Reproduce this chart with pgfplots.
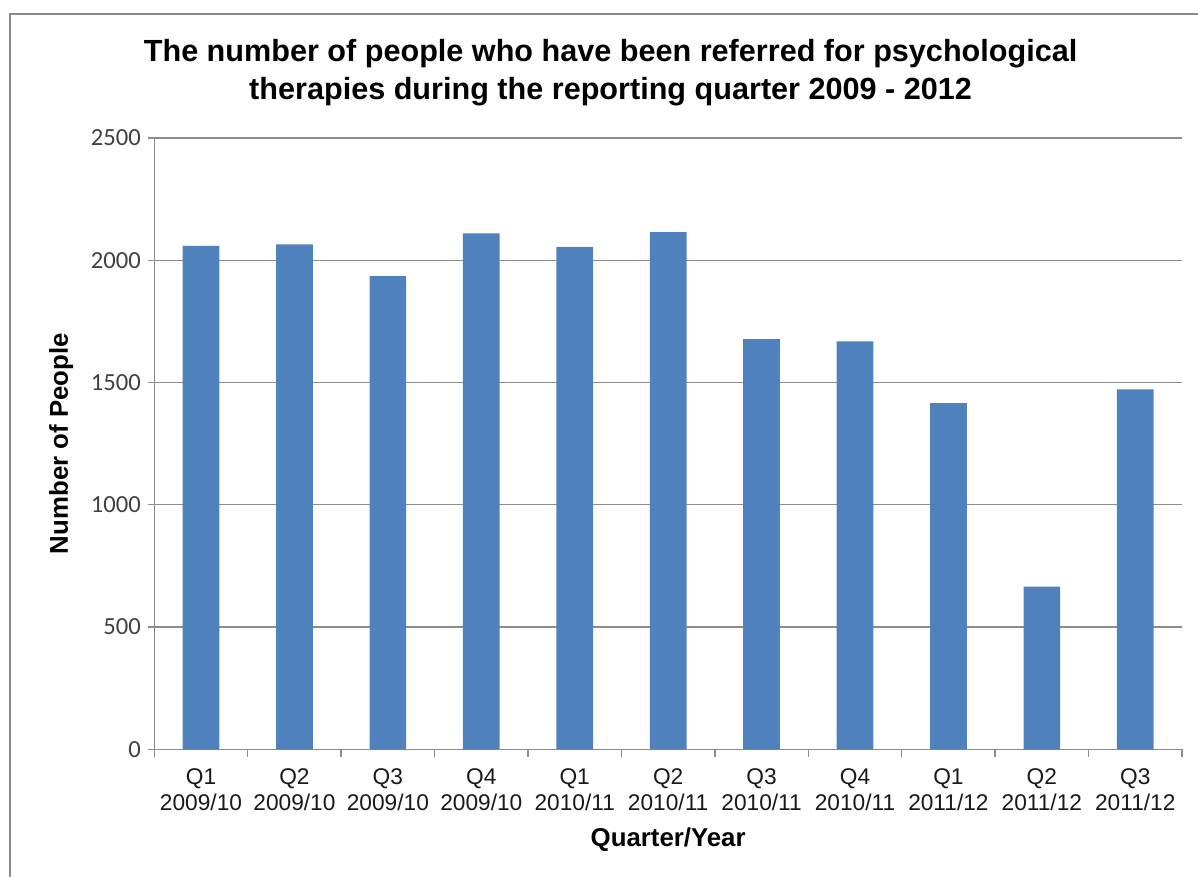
\documentclass[border=0pt]{standalone}
\usepackage{pgfplots}
\pgfplotsset{compat=1.18}
\usepackage{fontspec}
\setmainfont{Liberation Sans}
\newfontfamily\calibri{Carlito}

\definecolor{barblue}{HTML}{4F81BD}
\definecolor{gridgray}{HTML}{8C8C8C}
\definecolor{framegray}{HTML}{8A8A8A}
\definecolor{ticktext}{HTML}{404040}

\pgfplotstableread{
idx people
0  2059
1  2065
2  1935
3  2110
4  2055
5  2115
6  1677
7  1668
8  1416
9  665
10 1472
}\referrals

\begin{document}
\begin{tikzpicture}
% page extent, fixed around the plot area
\path[use as bounding box] (-77.15pt,-63.85pt) rectangle (521.85pt,374.65pt);
% outer chart frame
\draw[framegray, line width=1pt] (-72.15pt,-70pt) -- (-72.15pt,367.65pt) -- (530pt,367.65pt);
\begin{axis}[
  at={(0,0)}, anchor=south west,
  scale only axis,
  width=513.85pt, height=305.65pt,
  xmin=-0.5, xmax=10.5,
  ymin=0, ymax=2500,
  ytick={0,500,...,2500},
  xtick={0,...,10},
  xticklabels={{Q1\\2009/10},{Q2\\2009/10},{Q3\\2009/10},{Q4\\2009/10},
               {Q1\\2010/11},{Q2\\2010/11},{Q3\\2010/11},{Q4\\2010/11},
               {Q1\\2011/12},{Q2\\2011/12},{Q3\\2011/12}},
  minor xtick={-0.5,0.5,...,10.5},
  major x tick style={draw=none},
  minor x tick style={gridgray, line width=0.7pt},
  major tick length=3.25pt,
  minor tick length=3.75pt,
  tick align=outside,
  tick pos=left,
  axis lines*=left,
  axis line style={gridgray, line width=0.7pt},
  ymajorgrids,
  major grid style={gridgray, line width=0.7pt},
  y tick style={gridgray, line width=0.7pt},
  /pgf/number format/assume math mode=true,
  /pgf/number format/set thousands separator={},
  x tick label style={align=center, font=\fontsize{11.35}{13}\selectfont, text=black!90, yshift=-3pt},
  y tick label style={font=\calibri\fontsize{12.3}{14}\selectfont, text=ticktext},
  xlabel={Quarter/Year},
  ylabel={Number of People},
  xlabel style={font=\bfseries\fontsize{12.9}{15}\selectfont, at={(axis description cs:0.5,-0.1484)}, anchor=center},
  ylabel style={font=\bfseries\fontsize{12.9}{15}\selectfont, at={(axis description cs:-0.0906,0.5)}, anchor=center},
  title={The number of people who have been referred for psychological\\therapies during the reporting quarter 2009 - 2012},
  title style={font=\bfseries\fontsize{15.3}{19}\selectfont, align=center, at={(axis description cs:0.444,1.0875)}, anchor=center},
  clip=false,
]
\addplot[ybar, bar width=18.35pt, fill=barblue, draw=none] table[x=idx, y=people] {\referrals};
\end{axis}
\end{tikzpicture}
\end{document}
